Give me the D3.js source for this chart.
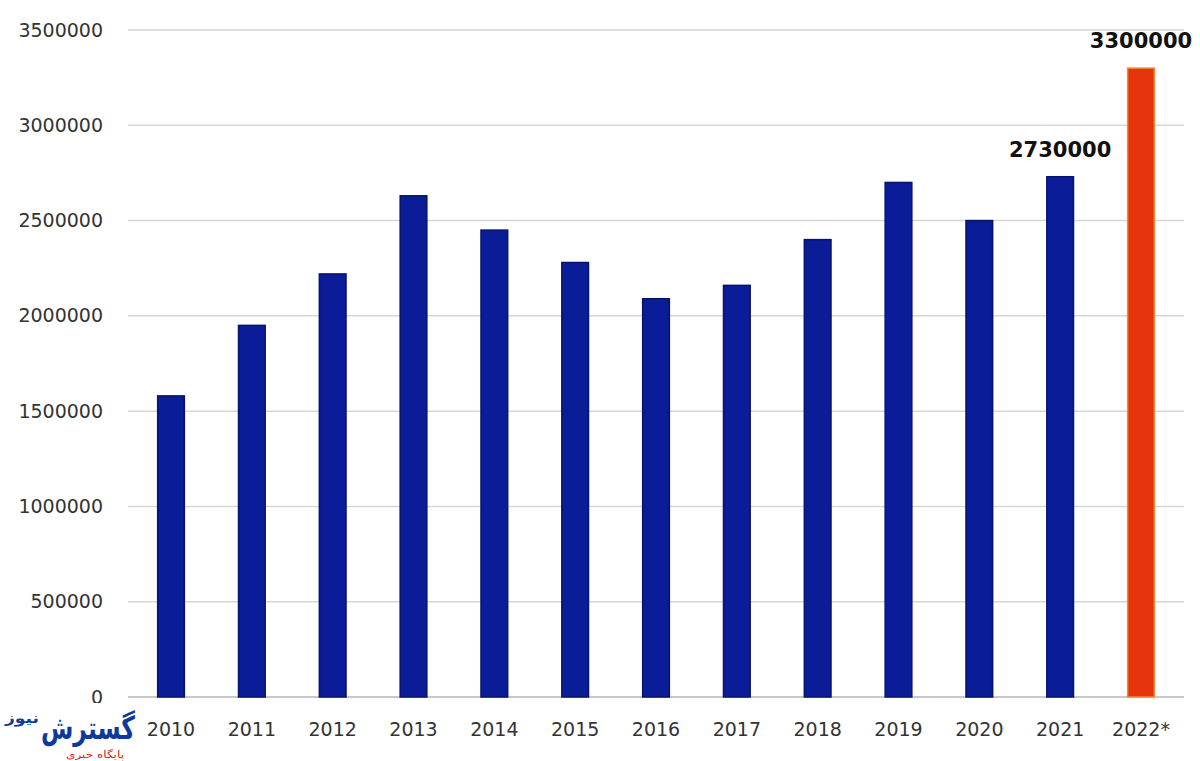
<!DOCTYPE html>
<html>
<head>
<meta charset="utf-8">
<script src="https://cdn.jsdelivr.net/npm/d3@7"></script>
<style>
  body { margin: 0; background: #fff; }
  .tick text { font-family: "DejaVu Sans", sans-serif; fill: #333; }
</style>
</head>
<body>
<div id="chart"></div>
<script>
var width = 1200, height = 761;

// data
var years = ["2010", "2011", "2012", "2013", "2014", "2015", "2016", "2017", "2018", "2019", "2020", "2021", "2022*"];
var values = [1580000, 1950000, 2220000, 2630000, 2450000, 2280000, 2090000, 2160000, 2400000, 2700000, 2500000, 2730000, 3300000];
var yTicks = [0, 500000, 1000000, 1500000, 2000000, 2500000, 3000000, 3500000];
var labelled = ["2021", "2022*"];

var svg = d3.select("#chart").append("svg")
    .attr("width", width).attr("height", height);

var x = d3.scaleBand().domain(years).range([130.6, 1181.4])
    .paddingInner(0.67).paddingOuter(0.335);
var y = d3.scaleLinear().domain([0, 3500000]).range([697, 30]);

// gridlines
svg.append("g").selectAll("line").data(yTicks).enter().append("line")
    .attr("x1", 128).attr("x2", 1184)
    .attr("y1", function (d) { return y(d); })
    .attr("y2", function (d) { return y(d); })
    .attr("stroke", function (d) { return d === 0 ? "#c8c8c8" : "#d6d6d6"; })
    .attr("stroke-width", function (d) { return d === 0 ? 2 : 1.5; });

// y axis labels
var yAxis = d3.axisLeft(y).tickValues(yTicks).tickSize(0).tickPadding(0)
    .tickFormat(d3.format("d"));
var ga = svg.append("g").attr("transform", "translate(103,0)").call(yAxis);
ga.select(".domain").remove();
ga.selectAll("text").attr("font-size", 19).attr("dy", "0.32em");

// x axis labels
var xAxis = d3.axisBottom(x).tickSize(0).tickPadding(0);
var gx = svg.append("g").attr("transform", "translate(0,722)").call(xAxis);
gx.select(".domain").remove();
gx.selectAll("text").attr("font-size", 19).attr("dy", "0.75em");

// bars
svg.append("g").selectAll("rect").data(years).enter().append("rect")
    .attr("x", function (d) { return x(d); })
    .attr("width", x.bandwidth())
    .attr("y", function (d, i) { return y(values[i]); })
    .attr("height", function (d, i) { return y(0) - y(values[i]); })
    .attr("fill", function (d, i) { return i === years.length - 1 ? "#e5330b" : "#0a1c98"; })
    .attr("stroke", function (d, i) { return i === years.length - 1 ? "#f08a3a" : "#06146e"; })
    .attr("stroke-width", 1.5);

// value labels
svg.append("g").selectAll("text").data(years.filter(function (d) { return labelled.indexOf(d) >= 0; }))
    .enter().append("text")
    .attr("x", function (d) { return x(d) + x.bandwidth() / 2; })
    .attr("y", function (d) { return y(values[years.indexOf(d)]) - 20; })
    .attr("text-anchor", "middle")
    .attr("font-family", "DejaVu Sans, sans-serif")
    .attr("font-weight", "bold")
    .attr("font-size", 21)
    .attr("fill", "#111")
    .text(function (d) { return d3.format("d")(values[years.indexOf(d)]); });

// logo
var logo = svg.append("g");
logo.append("rect").attr("x", 0).attr("y", 703).attr("width", 146).attr("height", 58).attr("fill", "#fff");
logo.append("text").attr("x", 41).attr("y", 739)
    .attr("textLength", 94).attr("lengthAdjust", "spacingAndGlyphs")
    .attr("font-family", "DejaVu Sans, sans-serif").attr("font-weight", "bold")
    .attr("font-size", 32).attr("fill", "#0b3a9c").text("گسترش");
logo.append("text").attr("x", 5).attr("y", 723)
    .attr("textLength", 34).attr("lengthAdjust", "spacingAndGlyphs")
    .attr("font-family", "DejaVu Sans, sans-serif").attr("font-weight", "bold")
    .attr("font-size", 14).attr("fill", "#0b3a9c").text("نیوز");
logo.append("text").attr("x", 66).attr("y", 758)
    .attr("textLength", 58).attr("lengthAdjust", "spacingAndGlyphs")
    .attr("font-family", "DejaVu Sans, sans-serif")
    .attr("font-size", 10).attr("fill", "#d42020").text("پایگاه خبری");
</script>
</body>
</html>
